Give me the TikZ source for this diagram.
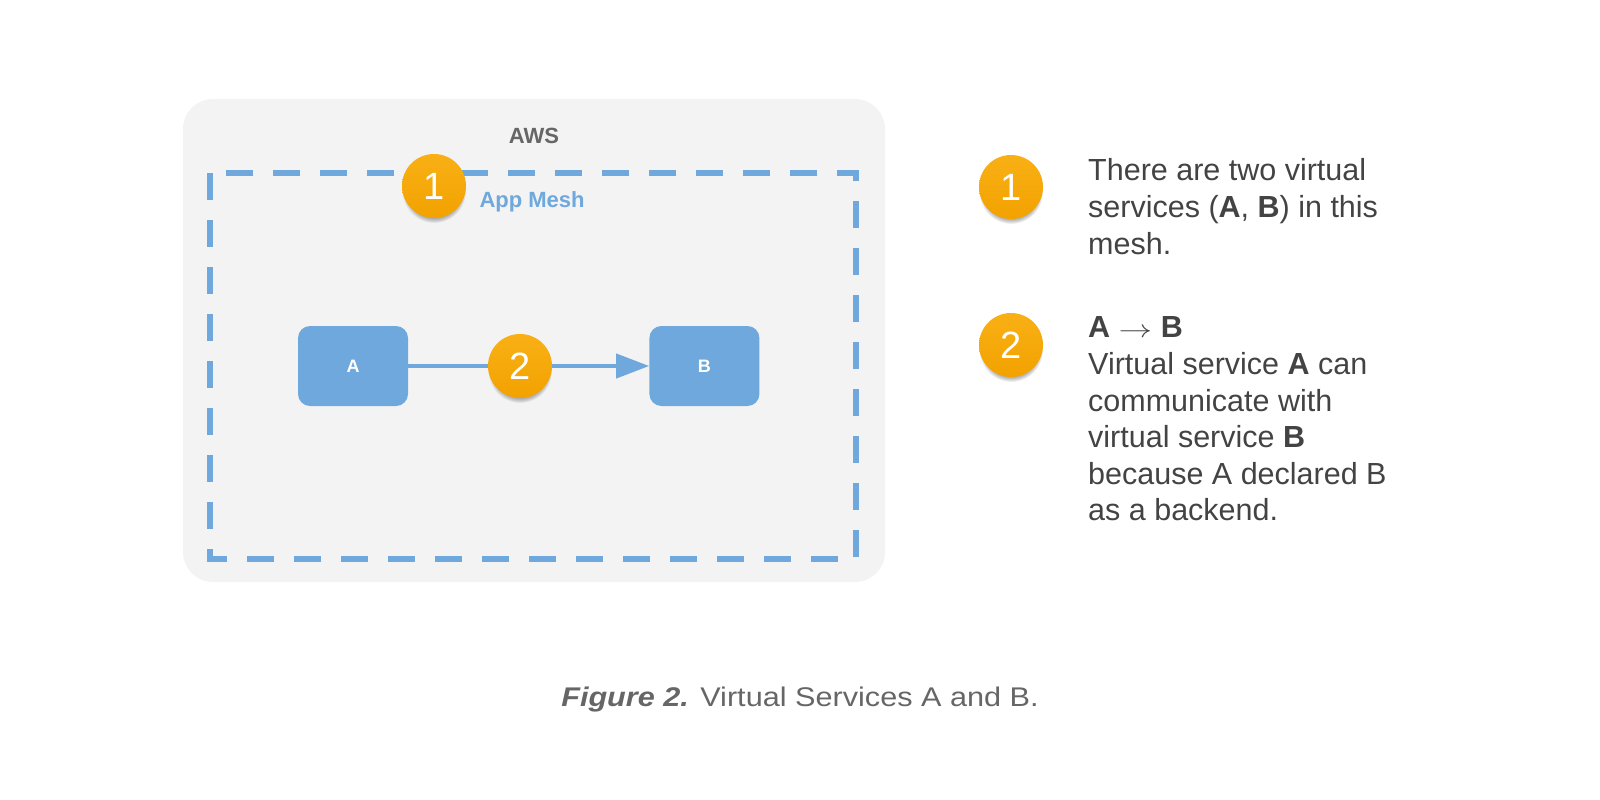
\documentclass[tikz,border=0pt]{standalone}
\usepackage{fontspec}
\setmainfont{Liberation Sans}
\newfontfamily\capfont[FakeStretch=1.135]{Liberation Sans}
\usepackage{tikz}
\usetikzlibrary{positioning, arrows.meta, shadows}
\definecolor{awsgray}{HTML}{F3F3F3}
\definecolor{meshblue}{HTML}{6FA8DC}
\definecolor{badgetop}{HTML}{F9B015}
\definecolor{badgebot}{HTML}{F2A200}
\definecolor{notegray}{HTML}{434343}
\definecolor{labelgray}{HTML}{666666}

\begin{document}
\begin{tikzpicture}[x=1pt, y=-1pt,
    awsbox/.style={fill=awsgray, rounded corners=30pt},
    meshbox/.style={draw=meshblue, line width=6pt, dash pattern=on 27pt off 20pt},
    svc/.style={rectangle, fill=meshblue, rounded corners=12pt, minimum width=110pt, minimum height=80pt, text=white, font=\bfseries\fontsize{18}{20}\selectfont},
    badge/.style={circle, top color=badgetop, bottom color=badgebot, draw=none, minimum size=64pt, inner sep=0pt, text=white, font=\fontsize{38}{40}\selectfont, circular drop shadow={shadow xshift=0pt, shadow yshift=-5pt, shadow scale=1.0, opacity=0.6}},
    note/.style={anchor=north west, inner sep=0pt, align=left, text=notegray, font=\fontsize{30.5}{36.6}\selectfont},
    flow/.style={draw=meshblue, line width=4pt, -{Triangle[length=33pt, width=24pt]}}]
    \useasboundingbox (0,0) rectangle (1600,800);

    % cajas de fondo
    \fill[awsbox] (183,99) rectangle (885,582);
    \draw[meshbox] (210,173) rectangle (856,559);
    \node[anchor=base, text=labelgray, font=\bfseries\fontsize{22}{24}\selectfont] (aws) at (534,143) {AWS};
    \node[anchor=base west, text=meshblue, font=\bfseries\fontsize{22}{24}\selectfont] (mesh) at (476,207) {App Mesh};

    % servicios virtuales
    \node[svc] (a) at (353,366) {A};
    \node[svc, right=241pt of a] (b) {B};
    \draw[flow] (a) -- (b);

    \node[badge] (m1) at (434,186) {1};
    \node[badge] (m2) at (520,366) {2};

    % notas
    \node[badge] (n1) at (1011,187) {1};
    \node[badge] (n2) at (1011,345) {2};
    \node[note] (t1) at (1088,155) {\strut There are two virtual\\ services (\textbf{A}, \textbf{B}) in this\\ mesh.};
    \node[note] (t2) at (1088,312) {\strut\textbf{A} \scalebox{1.35}[1]{$\rightarrow$} \textbf{B}\\ Virtual service \textbf{A} can\\ communicate with\\ virtual service \textbf{B}\\ because A declared B\\ as a backend.};

    \node[anchor=base, text=labelgray, font=\capfont\fontsize{27}{30}\selectfont] (cap) at (800,706) {\textbf{\itshape Figure 2.} Virtual Services A and B.};
\end{tikzpicture}
\end{document}
